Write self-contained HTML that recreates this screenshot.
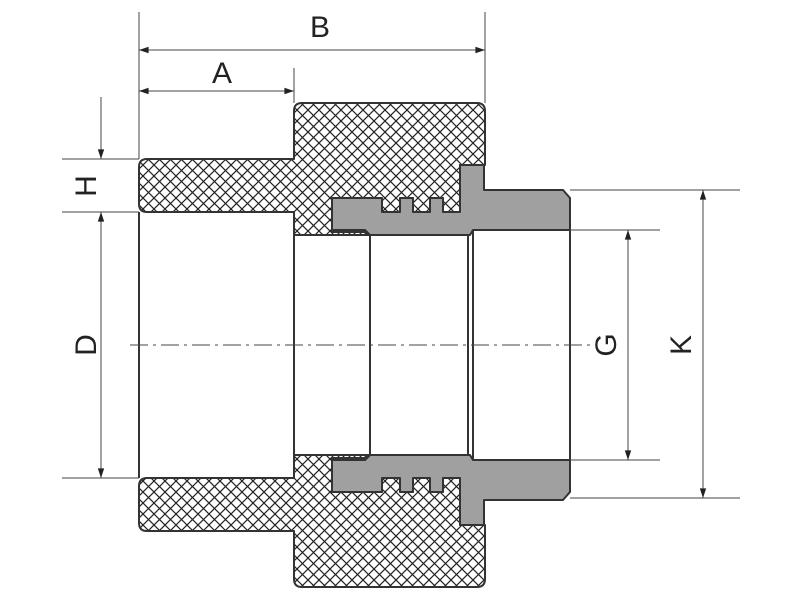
<!DOCTYPE html>
<html><head><meta charset="utf-8"><style>html,body{margin:0;padding:0;background:#fff}svg{display:block}</style></head>
<body>
<svg width="800" height="600" viewBox="0 0 800 600" xmlns="http://www.w3.org/2000/svg">
<defs>
<pattern id="h" width="11" height="11" patternUnits="userSpaceOnUse">
<rect width="11" height="11" fill="#fff"/>
<path d="M0,0 L11,11 M11,0 L0,11 M-1,10 L1,12 M10,-1 L12,1" stroke="#222" stroke-width="1.2"/>
</pattern>
<marker id="ar" viewBox="0 0 12 10" refX="12" refY="5" markerWidth="12" markerHeight="8" orient="auto-start-reverse" markerUnits="userSpaceOnUse">
<path d="M0,1 L12,5 L0,9 Z" fill="#222"/>
</marker>
</defs>
<rect width="800" height="600" fill="#fff"/>
<g id="top" stroke="#333" stroke-width="2" stroke-linejoin="round">
<path fill="url(#h)" d="M139,167 Q139,159 147,159 L294,159 L294,111 Q294,103 302,103 L477,103 Q485,103 485,111 L485,165 L460,165 L460,212 L443,212 L443,198 L430,198 L430,212 L413,212 L413,198 L400,198 L400,212 L382,212 L382,198 L332,198 L332,232 L365,232 L370,235 L294,235 L294,212 L147,212 Q139,212 139,204 Z"/>
<path fill="#a0a0a0" d="M460,165 L484,165 L484,190 L563,190 L570,198 L570,230 L473,230 L470,235 L370,235 L365,230 L332,230 L332,198 L382,198 L382,212 L400,212 L400,198 L413,198 L413,212 L430,212 L430,198 L443,198 L443,212 L460,212 Z"/>
</g>
<use href="#top" transform="matrix(1,0,0,-1,0,690)"/>
<g stroke="#333" stroke-width="2" fill="none">
<line x1="139" y1="212" x2="139" y2="478"/>
<line x1="294" y1="235" x2="294" y2="455"/>
<line x1="370" y1="235" x2="370" y2="455"/>
<line x1="468" y1="235" x2="468" y2="455"/>
<line x1="473" y1="230" x2="473" y2="460"/>
<line x1="570" y1="230" x2="570" y2="460"/>
</g>
<g stroke="#444" stroke-width="1" fill="none">
<line x1="139" y1="12" x2="139" y2="159"/>
<line x1="485" y1="12" x2="485" y2="103"/>
<line x1="294" y1="68" x2="294" y2="103"/>
<line x1="62" y1="159" x2="139" y2="159"/>
<line x1="62" y1="212" x2="139" y2="212"/>
<line x1="62" y1="478" x2="139" y2="478"/>
<line x1="570" y1="230" x2="660" y2="230"/>
<line x1="570" y1="460" x2="660" y2="460"/>
<line x1="570" y1="190" x2="740" y2="190"/>
<line x1="570" y1="498" x2="740" y2="498"/>
<line x1="130" y1="345" x2="592" y2="345" stroke-dasharray="18,5,3,5"/>
<line x1="139" y1="50" x2="485" y2="50" marker-start="url(#ar)" marker-end="url(#ar)"/>
<line x1="139" y1="91" x2="294" y2="91" marker-start="url(#ar)" marker-end="url(#ar)"/>
<line x1="101" y1="97" x2="101" y2="159" marker-end="url(#ar)"/>
<line x1="101" y1="212" x2="101" y2="478" marker-start="url(#ar)" marker-end="url(#ar)"/>
<line x1="628" y1="230" x2="628" y2="460" marker-start="url(#ar)" marker-end="url(#ar)"/>
<line x1="703" y1="190" x2="703" y2="498" marker-start="url(#ar)" marker-end="url(#ar)"/>
</g>
<g font-family="Liberation Sans, sans-serif" font-size="30" fill="#222" text-anchor="middle">
<text x="320" y="37">B</text>
<text x="222" y="83">A</text>
<text transform="translate(96,186) rotate(-90)">H</text>
<text transform="translate(96,345) rotate(-90)">D</text>
<text transform="translate(616,345) rotate(-90)">G</text>
<text transform="translate(691,345) rotate(-90)">K</text>
</g>
</svg>
</body></html>
